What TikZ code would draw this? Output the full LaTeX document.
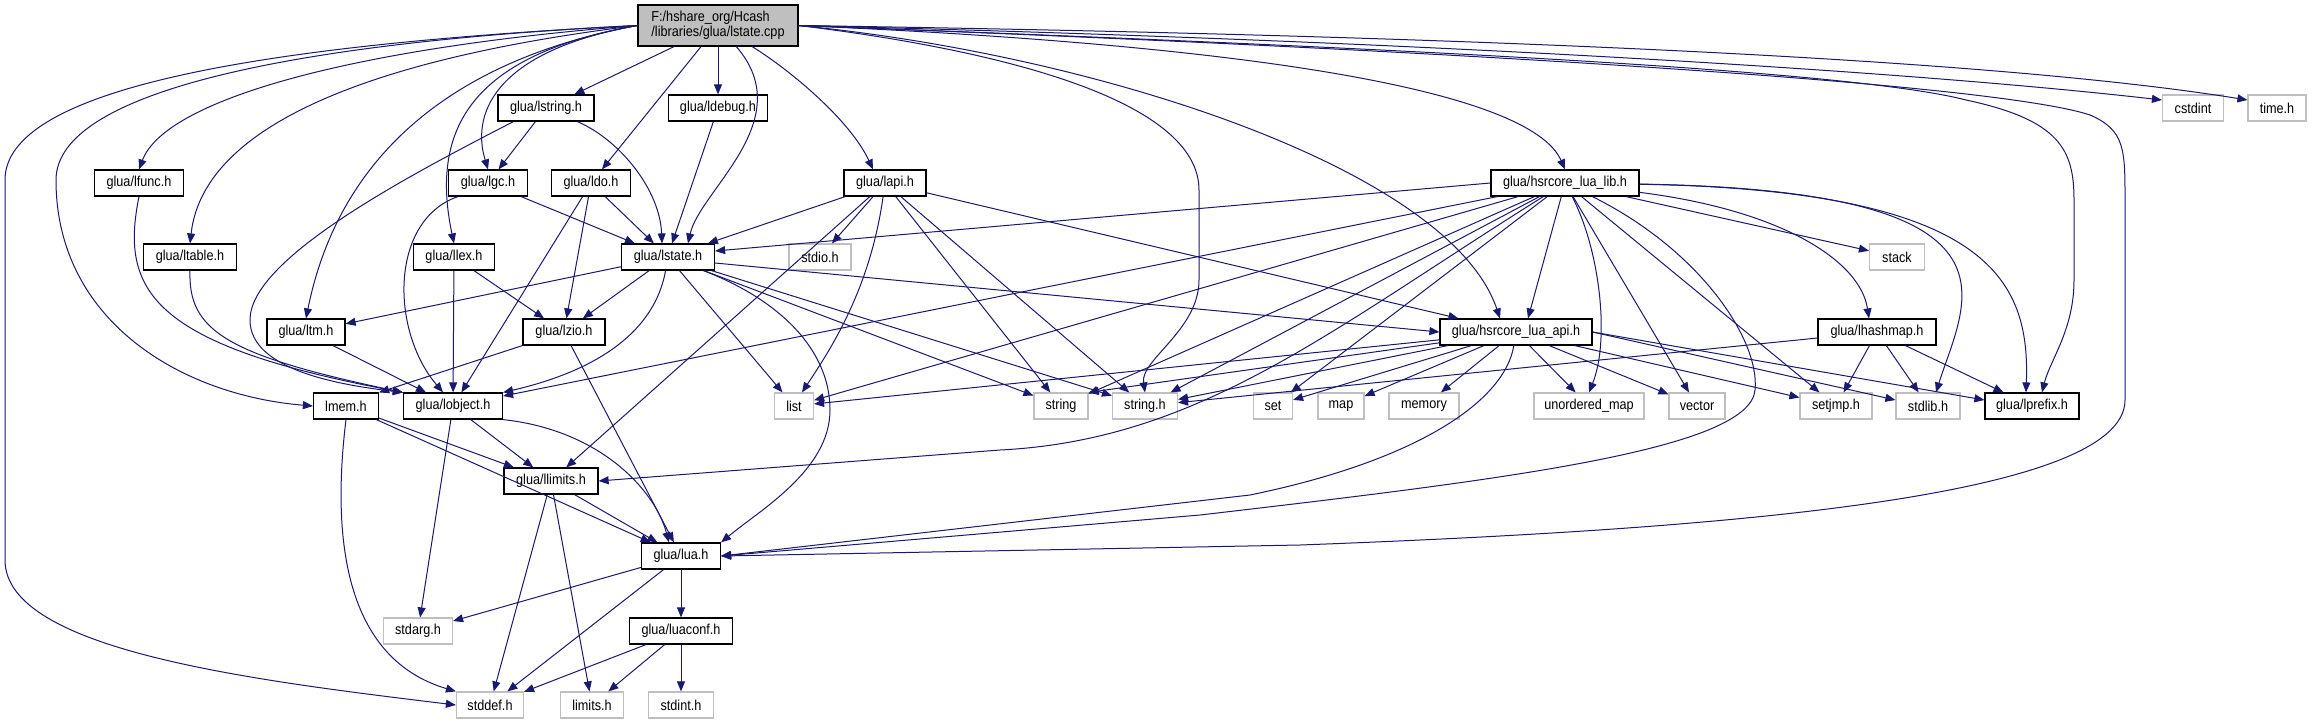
\documentclass[tikz,border=0pt]{standalone}
\usepackage{fontspec}
\usepackage{xcolor}
\newfontfamily\dxfont{Liberation Sans}[FakeStretch=0.88]
\usetikzlibrary{arrows.meta}
\definecolor{edgeblue}{HTML}{191970}
\definecolor{sysgray}{HTML}{BFBFBF}

\begin{document}
\begin{tikzpicture}[x=0.5pt, y=-0.5pt,
  hdr/.style={draw=black, fill=white, line width=0.6pt, inner sep=0pt,
    minimum height=13pt, font=\dxfont\fontsize{7.2}{7.5}\selectfont},
  syshdr/.style={hdr, draw=sysgray},
  srcfile/.style={hdr, fill=sysgray, minimum height=20.5pt, align=left},
  incl/.style={draw=edgeblue, line width=0.5pt, -{Triangle[length=5pt,width=4pt]}}]
\path[fill=white] (0, 0) rectangle (2312, 724);

\node[srcfile, minimum width=80pt] (root) at (718, 25.5) {F:/hshare\_org/Hcash\\/libraries/glua/lstate.cpp}; % source
\node[hdr, minimum width=48pt] (lstring) at (546, 108) {glua/lstring.h}; % row 2
\node[hdr, minimum width=49.5pt] (ldebug) at (718, 108) {glua/ldebug.h};
\node[syshdr, minimum width=30.5pt] (cstdint) at (2193, 108) {cstdint};
\node[syshdr, minimum width=29pt] (timeh) at (2277, 108) {time.h};
\node[hdr, minimum width=44.5pt] (lfunc) at (139, 183) {glua/lfunc.h}; % row 3
\node[hdr, minimum width=39.5pt] (lgc) at (488, 183) {glua/lgc.h};
\node[hdr, minimum width=39.5pt] (ldo) at (591, 183) {glua/ldo.h};
\node[hdr, minimum width=41pt] (lapi) at (885, 183) {glua/lapi.h};
\node[hdr, minimum width=74pt] (lib) at (1565, 183) {glua/hsrcore\_lua\_lib.h};
\node[hdr, minimum width=46.5pt] (ltable) at (190, 257) {glua/ltable.h}; % row 4
\node[hdr, minimum width=40.5pt] (llex) at (454, 257) {glua/llex.h};
\node[hdr, minimum width=46.5pt] (lstate) at (668, 257) {glua/lstate.h};
\node[syshdr, minimum width=31pt] (stdio) at (820, 257) {stdio.h};
\node[syshdr, minimum width=27.5pt] (stack) at (1897, 257) {stack};
\node[hdr, minimum width=39pt] (ltm) at (306, 332) {glua/ltm.h}; % row 5
\node[hdr, minimum width=41pt] (lzio) at (564, 332) {glua/lzio.h};
\node[hdr, minimum width=76pt] (api) at (1516, 332) {glua/hsrcore\_lua\_api.h};
\node[hdr, minimum width=59pt] (lhashmap) at (1877, 332) {glua/lhashmap.h};
\node[hdr, minimum width=32.5pt] (lmem) at (346, 406) {lmem.h}; % row 6
\node[hdr, minimum width=49.5pt] (lobject) at (453, 406) {glua/lobject.h};
\node[syshdr, minimum width=19.5pt] (list) at (794, 406) {list};
\node[syshdr, minimum width=27pt] (string) at (1061, 406) {string};
\node[syshdr, minimum width=32.5pt] (stringh) at (1145, 406) {string.h};
\node[syshdr, minimum width=19.5pt] (set) at (1273, 406) {set};
\node[syshdr, minimum width=23pt] (map) at (1341, 406) {map};
\node[syshdr, minimum width=35pt] (memory) at (1424, 406) {memory};
\node[syshdr, minimum width=55pt] (umap) at (1589, 406) {unordered\_map};
\node[syshdr, minimum width=28pt] (vector) at (1697, 406) {vector};
\node[syshdr, minimum width=36pt] (setjmp) at (1836, 406) {setjmp.h};
\node[syshdr, minimum width=32pt] (stdlib) at (1928, 406) {stdlib.h};
\node[hdr, minimum width=47pt] (lprefix) at (2032, 406) {glua/lprefix.h};
\node[hdr, minimum width=47pt] (llimits) at (551, 481) {glua/llimits.h}; % row 7
\node[hdr, minimum width=39.5pt] (luah) at (681, 556) {glua/lua.h}; % row 8
\node[syshdr, minimum width=34.5pt] (stdarg) at (418, 631) {stdarg.h}; % row 9
\node[hdr, minimum width=51.5pt] (luaconf) at (681, 631) {glua/luaconf.h};
\node[syshdr, minimum width=33.5pt] (stddef) at (490, 705) {stddef.h}; % row 10
\node[syshdr, minimum width=31.5pt] (limits) at (592, 705) {limits.h};
\node[syshdr, minimum width=32.5pt] (stdint) at (681, 705) {stdint.h};

% lstate.cpp
\draw[incl] (root.west) .. controls (250, 45) and (5, 90) .. (5, 180) -- (5, 560) .. controls (5, 650) and (250, 680) .. (stddef.west);
\draw[incl] (root.west) .. controls (300, 42) and (56, 90) .. (56, 180) .. controls (56, 320) and (180, 395) .. (lmem.west);
\draw[incl] (root.west) .. controls (350, 48) and (165, 100) .. (lfunc.north);
\draw[incl] (root.west) .. controls (420, 52) and (205, 110) .. (ltable.north);
\draw[incl] (root.west) .. controls (460, 58) and (340, 150) .. (ltm.north);
\draw[incl] (root.west) .. controls (470, 55) and (430, 130) .. (llex.north);
\draw[incl] (root.west) .. controls (500, 50) and (470, 110) .. (lgc.north);
\draw[incl] (root) -- (lstring);
\draw[incl] (root) -- (ldebug);
\draw[incl] (root) -- (ldo);
\draw[incl] (root) .. controls (800, 120) and (700, 190) .. ([xshift=10pt]lstate.north);
\draw[incl] (root) .. controls (790, 70) and (850, 120) .. ([xshift=-6pt]lapi.north);
\draw[incl] (root.east) .. controls (1000, 50) and (1199, 100) .. (1199, 190) -- (1199, 280) .. controls (1199, 330) and (1140, 360) .. (stringh.north);
\draw[incl] (root.east) .. controls (1100, 55) and (1450, 170) .. ([xshift=-8pt]api.north);
\draw[incl] (root.east) .. controls (1250, 45) and (1530, 90) .. (lib.north);
\draw[incl] (root.east) .. controls (1400, 48) and (1850, 70) .. (1966, 100) .. controls (2060, 120) and (2074, 150) .. (2074, 200) -- (2074, 280) .. controls (2074, 330) and (2050, 360) .. ([xshift=5pt]lprefix.north);
\draw[incl] (root.east) .. controls (1500, 52) and (2000, 85) .. (2090, 115) .. controls (2125, 130) and (2125, 150) .. (2125, 200) -- (2125, 400) .. controls (2125, 500) and (1700, 530) .. (1300, 545) -- (luah.east);
\draw[incl] (root.east) .. controls (1400, 40) and (1900, 70) .. ([yshift=4pt]cstdint.west);
\draw[incl] (root.east) .. controls (1500, 36) and (2000, 60) .. ([yshift=4pt]timeh.west);

% lstring.h, ldebug.h
\draw[incl] (lstring) -- (lgc);
\draw[incl] (lstring) .. controls (620, 140) and (660, 190) .. ([xshift=-3pt]lstate.north);
\draw[incl] ([xshift=8pt]lstring.south west) .. controls (400, 180) and (250, 260) .. (250, 320) .. controls (250, 370) and (340, 385) .. (lobject.north west);
\draw[incl] (ldebug) -- ([xshift=2pt]lstate.north);

% lfunc.h, ltable.h, lgc.h, ldo.h, llex.h, ltm.h
\draw[incl] (lfunc.south) .. controls (120, 290) and (150, 345) .. (lobject.north west);
\draw[incl] (ltable.south) .. controls (188, 330) and (225, 355) .. (lobject.north west);
\draw[incl] (lgc) -- (lstate);
\draw[incl] ([xshift=5pt]lgc.south west) .. controls (390, 220) and (390, 330) .. ([xshift=-5pt]lobject.north);
\draw[incl] (ldo) -- (lstate);
\draw[incl] (ldo) -- (lzio);
\draw[incl] (ldo) -- (lobject);
\draw[incl] (llex) -- (lzio);
\draw[incl] (llex) -- (lobject);
\draw[incl] (ltm) -- (lobject);

% lstate.h
\draw[incl] (lstate) -- (ltm);
\draw[incl] (lstate) -- (lzio);
\draw[incl] (lstate) .. controls (655, 330) and (600, 370) .. (lobject.north east);
\draw[incl] (lstate) -- (list);
\draw[incl] (lstate) .. controls (780, 300) and (830, 350) .. (830, 410) .. controls (830, 470) and (760, 510) .. (luah.north east);
\draw[incl] (lstate) -- (string);
\draw[incl] (lstate) -- (stringh);
\draw[incl] ([yshift=-3pt]lstate.east) -- (api.west);

% lapi.h
\draw[incl] (lapi) -- (lstate);
\draw[incl] (lapi) -- (llimits);
\draw[incl] (lapi) -- (stdio);
\draw[incl] (lapi) .. controls (870, 290) and (830, 350) .. ([xshift=4pt]list.north);
\draw[incl] (lapi) -- (string);
\draw[incl] (lapi) -- (stringh);
\draw[incl] (lapi) -- (api);

% hsrcore_lua_lib.h
\draw[incl] (lib.west) -- ([yshift=3pt]lstate.east);
\draw[incl] (lib) -- (lobject);
\draw[incl] (lib) .. controls (1330, 330) and (1200, 440) .. (1000, 450) -- (llimits.east);
\draw[incl] (lib) -- (list);
\draw[incl] (lib) -- (string);
\draw[incl] (lib) -- (stringh);
\draw[incl] (lib) -- (set);
\draw[incl] (lib) -- ([xshift=6pt]api.north);
\draw[incl] (lib) .. controls (1600, 250) and (1610, 340) .. (umap.north);
\draw[incl] (lib) -- (vector);
\draw[incl] (lib) -- (setjmp);
\draw[incl] (lib) .. controls (2040, 190) and (1965, 300) .. ([xshift=4pt]stdlib.north);
\draw[incl] (lib) .. controls (1990, 190) and (2030, 280) .. ([xshift=-3pt]lprefix.north);
\draw[incl] (lib) .. controls (1780, 210) and (1860, 260) .. ([xshift=-4pt]lhashmap.north);
\draw[incl] (lib) -- (stack);
\draw[incl] (lib) .. controls (1700, 250) and (1760, 340) .. (1755, 390) .. controls (1750, 450) and (1500, 480) .. (1200, 515) -- (luah.east);

% hsrcore_lua_api.h
\draw[incl] (api) -- (list);
\draw[incl] (api) -- (string.north east);
\draw[incl] (api) -- (stringh);
\draw[incl] (api) -- (set);
\draw[incl] (api) -- (map);
\draw[incl] (api) -- (memory);
\draw[incl] (api) -- (umap);
\draw[incl] (api) -- (vector);
\draw[incl] (api) -- (setjmp);
\draw[incl] (api.east) -- ([yshift=3pt]stdlib.west);
\draw[incl] (api.east) -- ([yshift=3pt]lprefix.west);
\draw[incl] (api) .. controls (1505, 400) and (1420, 460) .. (1250, 495) -- (luah.east);

% lhashmap.h
\draw[incl] (lhashmap) -- (stringh);
\draw[incl] (lhashmap) -- (setjmp);
\draw[incl] (lhashmap) -- (stdlib);
\draw[incl] (lhashmap) -- (lprefix);

% lzio.h, lmem.h, lobject.h
\draw[incl] (lzio) -- (lmem.north east);
\draw[incl] (lzio) -- (luah);
\draw[incl] (lmem.south) .. controls (330, 550) and (350, 660) .. (stddef.north west);
\draw[incl] (lmem) -- (llimits);
\draw[incl] (lmem) -- (luah);
\draw[incl] (lobject) -- (stdarg);
\draw[incl] (lobject) -- (llimits);
\draw[incl] (lobject.south east) .. controls (600, 430) and (655, 490) .. ([xshift=-6pt]luah.north);

% llimits.h, lua.h, luaconf.h
\draw[incl] (llimits) -- (stddef);
\draw[incl] (llimits) -- (limits);
\draw[incl] (llimits) -- (luah);
\draw[incl] (luah) -- (stdarg);
\draw[incl] (luah) -- (stddef);
\draw[incl] (luah) -- (luaconf);
\draw[incl] (luaconf) -- (stddef);
\draw[incl] (luaconf) -- (limits);
\draw[incl] (luaconf) -- (stdint);
\end{tikzpicture}
\end{document}
